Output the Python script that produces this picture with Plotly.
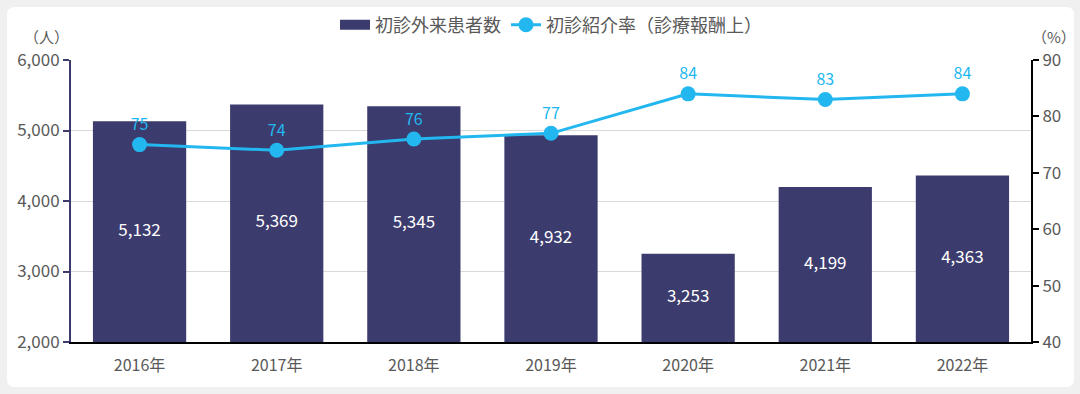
import plotly.graph_objects as go

years = ["2016年", "2017年", "2018年", "2019年", "2020年", "2021年", "2022年"]
patients = [5132, 5369, 5345, 4932, 3253, 4199, 4363]
referral_rate = [75, 74, 76, 77, 84, 83, 84]

BAR = "#3c3b6e"
LINE = "#22b7ef"
TXT = "#595959"
FONT = "Noto Sans CJK JP"

Y_MIN, Y_MAX = 2000, 6000

W, H = 1080, 394
ml, mr, mt, mb = 71, 49, 60, 52
pw, ph = W - ml - mr, H - mt - mb

def px(x):
    return (x - ml) / pw

def py(y):
    return (H - mb - y) / ph

fig = go.Figure()
fig.add_trace(go.Bar(
    x=years, y=patients, name="初診外来患者数",
    marker=dict(color=BAR, line=dict(width=0)),
    width=0.68, showlegend=False,
    yaxis="y",
))
# legend stand-in for the bar series (wide rectangle symbol)
fig.add_trace(go.Scatter(
    x=[None], y=[None], name="初診外来患者数", mode="lines",
    line=dict(color=BAR, width=11), legendrank=1,
))
# bar value labels centred in the visible part of each bar
fig.add_trace(go.Scatter(
    x=years, y=[(v + Y_MIN) / 2 for v in patients], mode="text",
    text=[f"{v:,}" for v in patients], showlegend=False,
    textfont=dict(color="white", size=17, family=FONT),
    hoverinfo="skip", yaxis="y",
))
fig.add_trace(go.Scatter(
    x=years, y=referral_rate, name="初診紹介率（診療報酬上）",
    mode="lines+markers+text",
    line=dict(color=LINE, width=3),
    marker=dict(color=LINE, size=15),
    text=[str(v) for v in referral_rate], textposition="top center",
    textfont=dict(color=LINE, size=16, family=FONT),
    yaxis="y2", legendrank=2,
))

# background panel with rounded corners
x0, x1, y0, y1, r = 7, 1074, 7, 387, 8
path = (f"M {px(x0+r)} {py(y0)} L {px(x1-r)} {py(y0)} Q {px(x1)} {py(y0)} {px(x1)} {py(y0+r)} "
        f"L {px(x1)} {py(y1-r)} Q {px(x1)} {py(y1)} {px(x1-r)} {py(y1)} "
        f"L {px(x0+r)} {py(y1)} Q {px(x0)} {py(y1)} {px(x0)} {py(y1-r)} "
        f"L {px(x0)} {py(y0+r)} Q {px(x0)} {py(y0)} {px(x0+r)} {py(y0)} Z")
fig.add_shape(type="path", path=path, xref="paper", yref="paper",
              fillcolor="white", line=dict(width=0), layer="below")

fig.add_annotation(text="（人）", x=px(46), y=py(36), xref="paper", yref="paper",
                   xanchor="center", yanchor="middle",
                   showarrow=False, font=dict(size=15, color=TXT, family=FONT))
fig.add_annotation(text="（%）", x=px(1054), y=py(36), xref="paper", yref="paper",
                   xanchor="center", yanchor="middle",
                   showarrow=False, font=dict(size=15, color=TXT, family=FONT))

fig.update_layout(
    width=W, height=H,
    margin=dict(l=ml, r=mr, t=mt, b=mb, autoexpand=False),
    paper_bgcolor="#f0f0f0", plot_bgcolor="rgba(0,0,0,0)",
    font=dict(family=FONT, color=TXT, size=16),
    showlegend=True,
    legend=dict(orientation="h", x=0.5, xanchor="center", y=py(25), yanchor="middle",
                font=dict(size=18, color=TXT), bgcolor="rgba(0,0,0,0)",
                traceorder="normal"),
    xaxis=dict(showline=True, linecolor="black", linewidth=2, ticks="",
               tickfont=dict(size=16, color=TXT), showgrid=False,
               ticklabelstandoff=8),
    yaxis=dict(range=[Y_MIN, Y_MAX], dtick=1000, tickformat=",",
               showline=True, linecolor=BAR, linewidth=2,
               ticks="outside", tickcolor=BAR, ticklen=6, tickwidth=2,
               showgrid=True, gridcolor="#d9d9d9", gridwidth=1,
               tickfont=dict(size=17, color=TXT), zeroline=False),
    yaxis2=dict(range=[40, 90], dtick=10, overlaying="y", side="right",
                showline=True, linecolor="black", linewidth=2,
                ticks="outside", tickcolor="black", ticklen=6, tickwidth=2,
                showgrid=False, tickfont=dict(size=17, color=TXT), zeroline=False),
)

fig.write_html(
    "out.html",
    config={"displayModeBar": False},
    post_script="document.body.style.margin='0';document.body.style.background='#f0f0f0';",
)
